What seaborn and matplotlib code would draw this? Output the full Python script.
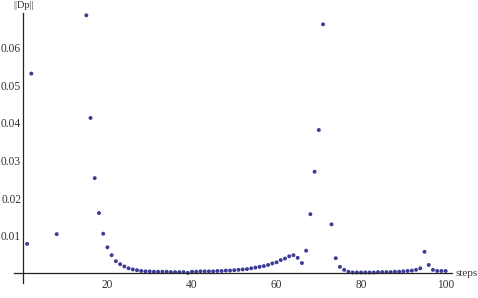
import matplotlib
matplotlib.use("Agg")
import matplotlib.pyplot as plt
from matplotlib.ticker import MultipleLocator, FixedLocator, FixedFormatter
import seaborn as sns
import pandas as pd

# ---- data (points above the plot range are not visible) ----
steps = [1, 2, 8, 15, 16, 17, 18, 19, 20, 21, 22, 23, 24, 25, 26, 27, 28, 29, 30,
         31, 32, 33, 34, 35, 36, 37, 38, 39, 40, 41, 42, 43, 44, 45, 46, 47, 48, 49, 50,
         51, 52, 53, 54, 55, 56, 57, 58, 59, 60, 61, 62, 63, 64, 65, 66, 67, 68, 69, 70,
         71, 73, 74, 75, 76, 77, 78, 79, 80, 81, 82, 83, 84, 85, 86, 87, 88, 89, 90,
         91, 92, 93, 94, 95, 96, 97, 98, 99, 100]
norm_dp = [0.0078, 0.0531, 0.0104, 0.0686, 0.0413, 0.0253, 0.0160, 0.0105, 0.0069, 0.0048,
           0.0032, 0.0024, 0.0018, 0.0013, 0.0010, 0.0008, 0.0006, 0.0005, 0.0005,
           0.0004, 0.0004, 0.0004, 0.0004, 0.0003, 0.0003, 0.0003, 0.0003, 0.0001, 0.0004,
           0.0004, 0.0005, 0.0005, 0.0005, 0.0005, 0.0006, 0.0006, 0.0007, 0.0007, 0.0008,
           0.0009, 0.0010, 0.0011, 0.0013, 0.0015, 0.0017, 0.0019, 0.0022, 0.0026, 0.0029,
           0.0035, 0.0039, 0.0045, 0.0048, 0.0041, 0.0027, 0.0060, 0.0157, 0.0270, 0.0381,
           0.0662, 0.0130, 0.0040, 0.0017, 0.0009, 0.0004, 0.0002, 0.0002, 0.0002, 0.0002,
           0.0002, 0.0002, 0.0003, 0.0003, 0.0003, 0.0003, 0.0004, 0.0004, 0.0005,
           0.0006, 0.0007, 0.0009, 0.0013, 0.0057, 0.0022, 0.0009, 0.0006, 0.0006, 0.0006]

x_ticks = [20, 40, 60, 80, 100]
x_tick_labels = ["20", "40", "60", "80", "100"]
y_ticks = [0.01, 0.02, 0.03, 0.04, 0.05, 0.06]
y_tick_labels = ["0.01", "0.02", "0.03", "0.04", "0.05", "0.06"]
x_label = "steps"
y_label = "||Dp||"

df = pd.DataFrame({"step": steps, "value": norm_dp})

sns.set_style("white")
plt.rcParams["font.family"] = ["Liberation Serif", "DejaVu Serif"]

fig = plt.figure(figsize=(4.78, 2.98), dpi=100)
ax = fig.add_axes([14 / 478, 1 - 283 / 298, 438 / 478, 270.3 / 298])

sns.scatterplot(data=df, x="step", y="value", ax=ax, s=8, color="#3d3d99",
                linewidth=0, edgecolor="none", legend=False, clip_on=False)

ax.set_xlim(-2.1, 101.5)
ax.set_ylim(-0.0026, 0.0693)

for side in ("top", "right"):
    ax.spines[side].set_visible(False)
ax.spines["left"].set_position(("data", 0))
ax.spines["bottom"].set_position(("data", 0))
for side in ("left", "bottom"):
    ax.spines[side].set_color("#222222")
    ax.spines[side].set_linewidth(0.9)

ax.xaxis.set_major_locator(FixedLocator(x_ticks))
ax.xaxis.set_major_formatter(FixedFormatter(x_tick_labels))
ax.xaxis.set_minor_locator(MultipleLocator(5))
ax.yaxis.set_major_locator(FixedLocator(y_ticks))
ax.yaxis.set_major_formatter(FixedFormatter(y_tick_labels))
ax.yaxis.set_minor_locator(MultipleLocator(0.002))

ax.tick_params(which="major", direction="in", length=4.5, width=0.9, color="#222222",
               labelsize=8.3, labelcolor="#333333")
ax.tick_params(which="minor", direction="in", length=2.3, width=0.7, color="#222222")
ax.tick_params(axis="x", which="major", pad=4)
ax.tick_params(axis="y", which="major", pad=1.2)

ax.set_xlabel("")
ax.set_ylabel("")
fig.text(456 / 478, 1 - 273 / 298, x_label, fontsize=8, color="#333333",
         ha="left", va="center")
fig.text(13 / 478, 1 - 5 / 298, y_label, fontsize=7.5, color="#333333",
         ha="left", va="center")

fig.savefig("out.png", dpi=100)
